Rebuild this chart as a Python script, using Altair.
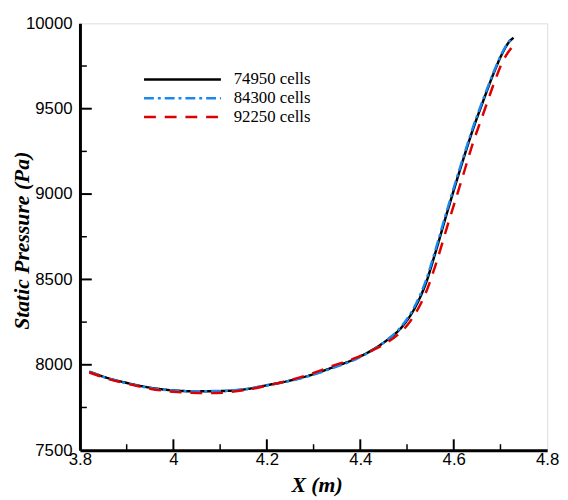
import altair as alt
import pandas as pd

series_names = ["74950 cells", "84300 cells", "92250 cells"]

x_74950 = [3.82, 3.86, 3.90, 3.95, 4.00, 4.04, 4.08, 4.12, 4.16, 4.20, 4.25, 4.30, 4.34, 4.39, 4.43, 4.46, 4.48, 4.50, 4.52, 4.54, 4.56, 4.585, 4.62, 4.64, 4.665, 4.685, 4.705, 4.718, 4.728]
y_74950 = [7960, 7922, 7894, 7866, 7850, 7845, 7845, 7848, 7859, 7880, 7908, 7945, 7984, 8036, 8094, 8150, 8195, 8260, 8350, 8475, 8650, 8885, 9200, 9370, 9560, 9705, 9830, 9890, 9915]

x_84300 = [3.82, 3.86, 3.90, 3.95, 4.00, 4.04, 4.08, 4.12, 4.16, 4.20, 4.25, 4.30, 4.34, 4.39, 4.43, 4.46, 4.48, 4.50, 4.52, 4.54, 4.56, 4.585, 4.62, 4.64, 4.665, 4.685, 4.705, 4.718, 4.728]
y_84300 = [7958, 7920, 7892, 7864, 7849, 7845, 7846, 7849, 7860, 7879, 7906, 7942, 7980, 8032, 8092, 8152, 8200, 8268, 8362, 8490, 8665, 8900, 9212, 9382, 9570, 9712, 9835, 9893, 9916]

x_92250 = [3.82, 3.86, 3.90, 3.95, 4.00, 4.04, 4.08, 4.12, 4.16, 4.20, 4.25, 4.30, 4.34, 4.39, 4.43, 4.46, 4.48, 4.50, 4.52, 4.54, 4.56, 4.585, 4.62, 4.64, 4.665, 4.685, 4.705, 4.715, 4.725]
y_92250 = [7955, 7918, 7890, 7860, 7842, 7836, 7834, 7840, 7855, 7878, 7910, 7952, 7993, 8040, 8090, 8135, 8175, 8230, 8310, 8420, 8575, 8800, 9110, 9290, 9485, 9640, 9778, 9825, 9862]

x_major_ticks = [4.0, 4.2, 4.4, 4.6]
x_minor_ticks = [3.9, 4.1, 4.3, 4.5, 4.7]
y_major_ticks = [8000, 8500, 9000, 9500]
y_minor_ticks = [7750, 8250, 8750, 9250, 9750]
x_labels = [3.8, 4.0, 4.2, 4.4, 4.6, 4.8]
y_labels = [7500, 8000, 8500, 9000, 9500, 10000]

rows = []
for name, xs, ys in zip(series_names, [x_74950, x_84300, x_92250], [y_74950, y_84300, y_92250]):
    for xv, yv in zip(xs, ys):
        rows.append({"series": name, "x": xv, "p": yv})
df = pd.DataFrame(rows)

W, H = 474, 433

xscale = alt.Scale(domain=[3.8, 4.8], nice=False, zero=False)
yscale = alt.Scale(domain=[7500, 10000], nice=False, zero=False)

xaxis = alt.Axis(
    values=x_labels, format="~g", ticks=False, tickSize=0, grid=False,
    domainColor="black", domainWidth=3,
    labelFont="Liberation Sans", labelFontSize=17, labelColor="black", labelPadding=2,
    labelFlush=False,
    title="X (m)", titleFont="Liberation Serif", titleFontSize=22, titleFontStyle="italic",
    titleFontWeight="bold", titleColor="black", titleX=W / 2 + 3, titleY=42,
    titleBaseline="alphabetic", titleAlign="center",
)
yaxis = alt.Axis(
    values=y_labels, format="d", ticks=False, tickSize=0, grid=False,
    domainColor="black", domainWidth=3,
    labelFont="Liberation Sans", labelFontSize=17, labelColor="black", labelPadding=8,
    labelFlush=False,
    title="Static Pressure (Pa)", titleFont="Liberation Serif", titleFontSize=22,
    titleFontStyle="italic", titleFontWeight="bold", titleColor="black",
    titleX=-52, titleY=220, titleAngle=270, titleBaseline="alphabetic", titleAlign="center",
)

legend_opts = dict(
    title=None, orient="none", legendX=93, legendY=46,
    symbolType="M-4,0H4", symbolSize=380, symbolStrokeWidth=2.5,
    labelFont="Liberation Serif", labelFontSize=17, labelColor="black",
    labelOffset=41, rowPadding=0,
)

lines = alt.Chart(df).mark_line(strokeWidth=2.5, interpolate="monotone").encode(
    x=alt.X("x:Q", scale=xscale, axis=xaxis),
    y=alt.Y("p:Q", scale=yscale, axis=yaxis),
    color=alt.Color(
        "series:N",
        scale=alt.Scale(domain=series_names, range=["#000000", "#1a88f0", "#dd0000"]),
        legend=alt.Legend(**legend_opts),
    ),
    strokeDash=alt.StrokeDash(
        "series:N",
        scale=alt.Scale(domain=series_names, range=[[1, 0], [10, 4, 3, 4], [12, 9]]),
        legend=alt.Legend(**legend_opts),
    ),
)

xmaj = alt.Chart(pd.DataFrame({"t": x_major_ticks})).mark_rule(color="black", strokeWidth=2).encode(
    x=alt.X("t:Q", scale=xscale), y=alt.value(H), y2=alt.value(H - 11)
)
xmin = alt.Chart(pd.DataFrame({"t": x_minor_ticks})).mark_rule(color="black", strokeWidth=1.5).encode(
    x=alt.X("t:Q", scale=xscale), y=alt.value(H), y2=alt.value(H - 6)
)
ymaj = alt.Chart(pd.DataFrame({"t": y_major_ticks})).mark_rule(color="black", strokeWidth=2).encode(
    y=alt.Y("t:Q", scale=yscale), x=alt.value(0), x2=alt.value(12)
)
ymin = alt.Chart(pd.DataFrame({"t": y_minor_ticks})).mark_rule(color="black", strokeWidth=1.5).encode(
    y=alt.Y("t:Q", scale=yscale), x=alt.value(0), x2=alt.value(7)
)

chart = alt.layer(xmaj, xmin, ymaj, ymin, lines).properties(
    width=W, height=H,
    autosize=alt.AutoSizeParams(type="none"),
    padding={"left": 73, "top": 12, "right": 13, "bottom": 47},
).configure_view(stroke="black", strokeWidth=2).configure(background="white")

chart.save("out.html", embed_options={"renderer": "svg", "actions": False})
